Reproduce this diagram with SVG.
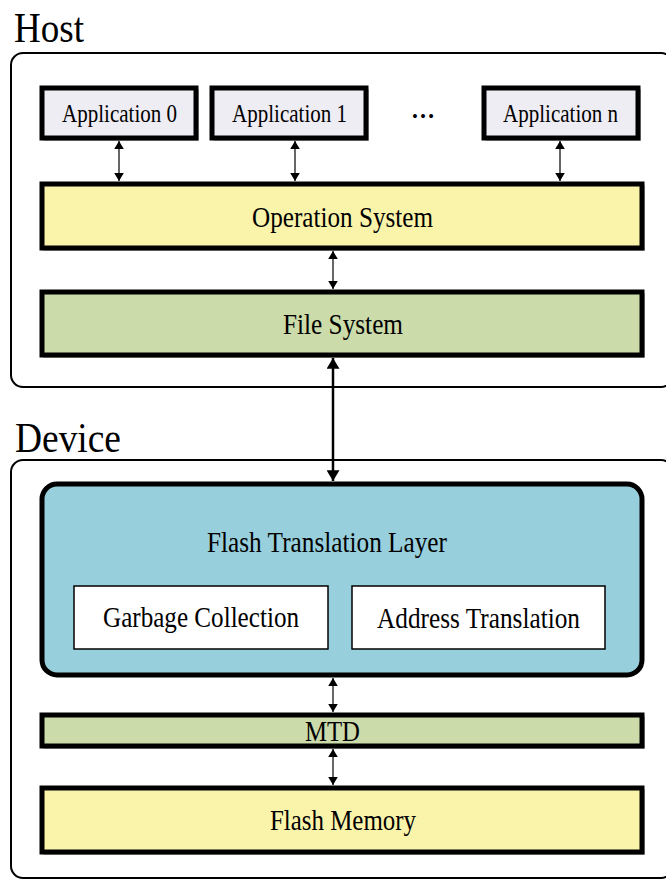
<svg xmlns="http://www.w3.org/2000/svg" width="666" height="879" viewBox="0 0 666 879">
  <defs>
    <marker id="sh" viewBox="0 0 10 12" refX="10" refY="6" markerWidth="8" markerHeight="10" markerUnits="userSpaceOnUse" orient="auto-start-reverse">
      <path d="M0,0 L10,6 L0,12 Z" fill="#000"/>
    </marker>
    <marker id="bh" viewBox="0 0 10 12" refX="10" refY="6" markerWidth="14" markerHeight="13" markerUnits="userSpaceOnUse" orient="auto-start-reverse">
      <path d="M0,0 L10,6 L0,12 Z" fill="#000"/>
    </marker>
  </defs>
  <style>
    .title { font-size: 42px; }
    .lbl { font-size: 29px; }
    .app { font-size: 25.5px; }
    .group { fill: #fff; stroke: #000; stroke-width: 2; }
    .shadow { fill: none; stroke: #9a9a9a; stroke-width: 1.5; }
    .box { stroke: #000; stroke-width: 5; }
    .appbox { fill: #efedf4; stroke: #000; stroke-width: 5; }
    .yellow { fill: #faf4aa; }
    .green { fill: #ccdbaa; }
    .blue { fill: #98cfdc; }
    .sub { fill: #fff; stroke: #000; stroke-width: 1.5; }
    .thin { stroke: #000; stroke-width: 1.2; fill: none; marker-start: url(#sh); marker-end: url(#sh); }
    .thick { stroke: #000; stroke-width: 2.5; fill: none; marker-start: url(#bh); marker-end: url(#bh); }
  </style>

  <g font-family="'Liberation Serif', 'DejaVu Serif', serif" fill="#000">
  <!-- Host -->
  <g id="host">
    <text class="title" x="14" y="42" textLength="70" lengthAdjust="spacingAndGlyphs">Host</text>
    <rect class="group" x="11" y="53" width="662" height="334" rx="12"/>
  </g>

  <g id="app0">
    <rect class="shadow" x="44" y="90" width="154" height="50"/>
    <rect class="appbox" x="42" y="88" width="154" height="50"/>
    <text class="app" x="62" y="122" textLength="115" lengthAdjust="spacingAndGlyphs">Application 0</text>
  </g>
  <g id="app1">
    <rect class="shadow" x="214" y="90" width="154" height="50"/>
    <rect class="appbox" x="212" y="88" width="154" height="50"/>
    <text class="app" x="232" y="122" textLength="115" lengthAdjust="spacingAndGlyphs">Application 1</text>
  </g>
  <g id="ellipsis">
    <text class="app" x="411" y="118" textLength="24" lengthAdjust="spacingAndGlyphs" font-weight="bold">…</text>
  </g>
  <g id="appn">
    <rect class="shadow" x="486" y="90" width="154" height="50"/>
    <rect class="appbox" x="484" y="88" width="154" height="50"/>
    <text class="app" x="503" y="122" textLength="115" lengthAdjust="spacingAndGlyphs">Application n</text>
  </g>

  <g id="os">
    <rect class="shadow" x="44" y="186" width="600" height="64"/>
    <rect class="box yellow" x="42" y="184" width="600" height="64"/>
    <text class="lbl" x="252" y="227" textLength="181" lengthAdjust="spacingAndGlyphs">Operation System</text>
  </g>

  <g id="fs">
    <rect class="shadow" x="44" y="294" width="600" height="63"/>
    <rect class="box green" x="42" y="292" width="600" height="63"/>
    <text class="lbl" x="283" y="334" textLength="120" lengthAdjust="spacingAndGlyphs">File System</text>
  </g>

  <!-- Device -->
  <g id="device">
    <text class="title" x="15" y="452" textLength="106" lengthAdjust="spacingAndGlyphs">Device</text>
    <rect class="group" x="11" y="460" width="662" height="418" rx="12"/>
  </g>

  <g id="ftl">
    <rect class="box blue" x="42" y="484" width="600" height="191" rx="15"/>
    <text class="lbl" x="207" y="552" textLength="240" lengthAdjust="spacingAndGlyphs">Flash Translation Layer</text>
  </g>
  <g id="gc">
    <rect class="sub" x="74" y="586" width="254" height="63"/>
    <text class="lbl" x="103" y="627" textLength="196" lengthAdjust="spacingAndGlyphs">Garbage Collection</text>
  </g>
  <g id="at">
    <rect class="sub" x="352" y="586" width="253" height="63"/>
    <text class="lbl" x="377" y="628" textLength="203" lengthAdjust="spacingAndGlyphs">Address Translation</text>
  </g>

  <g id="mtd">
    <rect class="shadow" x="44" y="717" width="600" height="31"/>
    <rect class="box green" x="42" y="715" width="600" height="31"/>
    <text class="lbl" x="305" y="741" textLength="55" lengthAdjust="spacingAndGlyphs">MTD</text>
  </g>

  <g id="flash">
    <rect class="shadow" x="44" y="790" width="600" height="64"/>
    <rect class="box yellow" x="42" y="788" width="600" height="64"/>
    <text class="lbl" x="270" y="830" textLength="146" lengthAdjust="spacingAndGlyphs">Flash Memory</text>
  </g>

  <!-- Connectors -->
  <g id="connectors">
    <line class="thin" x1="119" y1="141" x2="119" y2="181"/>
    <line class="thin" x1="295" y1="141" x2="295" y2="181"/>
    <line class="thin" x1="560" y1="141" x2="560" y2="181"/>
    <line class="thin" x1="333" y1="251" x2="333" y2="289"/>
    <line class="thick" x1="333" y1="358" x2="333" y2="481"/>
    <line class="thin" x1="333" y1="678" x2="333" y2="712"/>
    <line class="thin" x1="333" y1="749" x2="333" y2="785"/>
  </g>
  </g>
</svg>
